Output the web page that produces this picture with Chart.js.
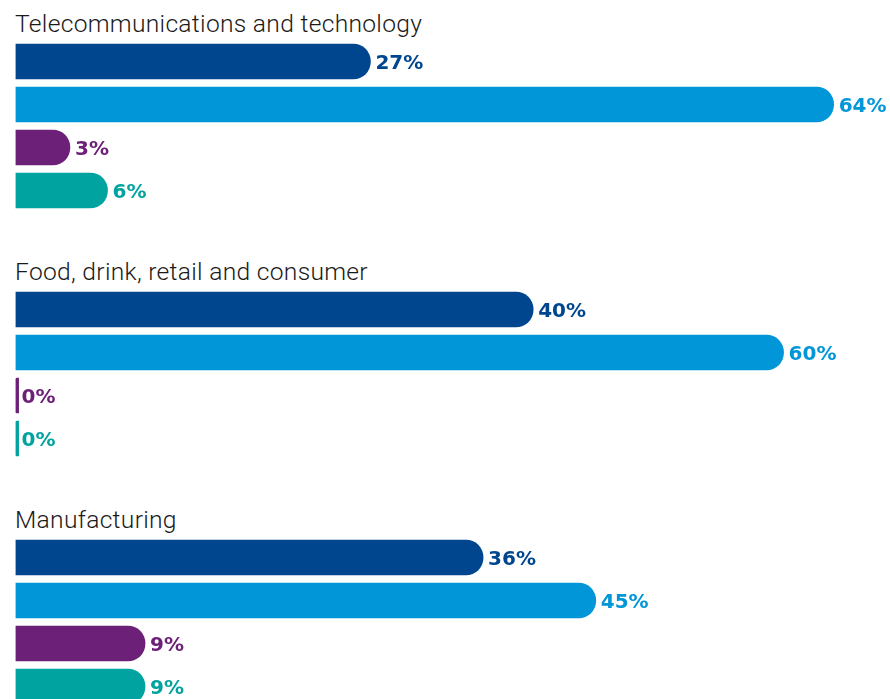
<!DOCTYPE html>
<html>
<head>
<meta charset="utf-8">
<script src="https://cdn.jsdelivr.net/npm/chart.js@4"></script>
<style>
  html, body { margin: 0; padding: 0; background: #fff; overflow: hidden; }
  body { width: 890px; height: 699px; position: relative; }
  .title {
    position: absolute; left: 15px; margin: 0;
    font: 300 24.6px/24px Roboto, sans-serif; letter-spacing: 0.3px;
    color: #1a1a1a; white-space: nowrap;
  }
  canvas { position: absolute; left: 0; }
</style>
</head>
<body>
<script>
// Sector groups, one small chart each.
const sectors = ["Telecommunications and technology", "Food, drink, retail and consumer", "Manufacturing"];
// The four response bars in each group (names not shown on the chart).
const seriesNames = ["Response 1", "Response 2", "Response 3", "Response 4"];
const series1 = [27, 40, 36];
const series2 = [64, 60, 45];
const series3 = [3, 0, 9];
const series4 = [6, 0, 9];
const seriesColors = ["#00468F", "#0096D8", "#6D2077", "#00A3A0"];

// Layout of each group block.
const GROUP_STEP = 248;
const CHART_TOP = 40;
const ROW = 43;
// The round cap sits left of zero, so bars start a little below it.
const CAP_START = -1.35;
const ZERO_END = -1.1; // a zero only shows a thin sliver

// Value labels right after the rounded bar end.
const valueLabels = {
  id: "valueLabels",
  afterDatasetsDraw(chart) {
    const { ctx } = chart;
    const meta = chart.getDatasetMeta(0);
    const vals = chart.options.plugins.valueLabels.values;
    ctx.save();
    ctx.font = "bold 20px 'DejaVu Sans', sans-serif";
    ctx.textAlign = "left";
    ctx.textBaseline = "alphabetic";
    meta.data.forEach((bar, i) => {
      ctx.fillStyle = seriesColors[i];
      const gap = vals[i] === 0 ? 6 : 5;
      ctx.fillText(vals[i] + "%", bar.x + gap, bar.y + 7.5);
    });
    ctx.restore();
  },
};

sectors.forEach((name, g) => {
  const t = document.createElement("p");
  t.className = "title";
  t.style.top = (12 + g * GROUP_STEP) + "px";
  t.textContent = name;
  document.body.appendChild(t);

  const c = document.createElement("canvas");
  c.width = 890; c.height = ROW * 4;
  c.style.top = (CHART_TOP + g * GROUP_STEP) + "px";
  document.body.appendChild(c);

  const values = [series1[g], series2[g], series3[g], series4[g]];
  new Chart(c, {
    type: "bar",
    data: {
      labels: seriesNames,
      datasets: [{
        data: values.map(v => [CAP_START, v === 0 ? ZERO_END : v]),
        backgroundColor: seriesColors,
        borderRadius: 100,
        borderSkipped: "left",
        barThickness: 35,
        categoryPercentage: 1,
      }],
    },
    options: {
      indexAxis: "y",
      responsive: false,
      animation: false,
      layout: { padding: { left: 15.5, right: 0, top: 0, bottom: 0 } },
      plugins: {
        legend: { display: false },
        tooltip: { enabled: false },
        valueLabels: { values },
      },
      scales: {
        x: { display: false, min: CAP_START, max: 68.5 },
        y: { display: false },
      },
    },
    plugins: [valueLabels],
  });
});
</script>
</body>
</html>
